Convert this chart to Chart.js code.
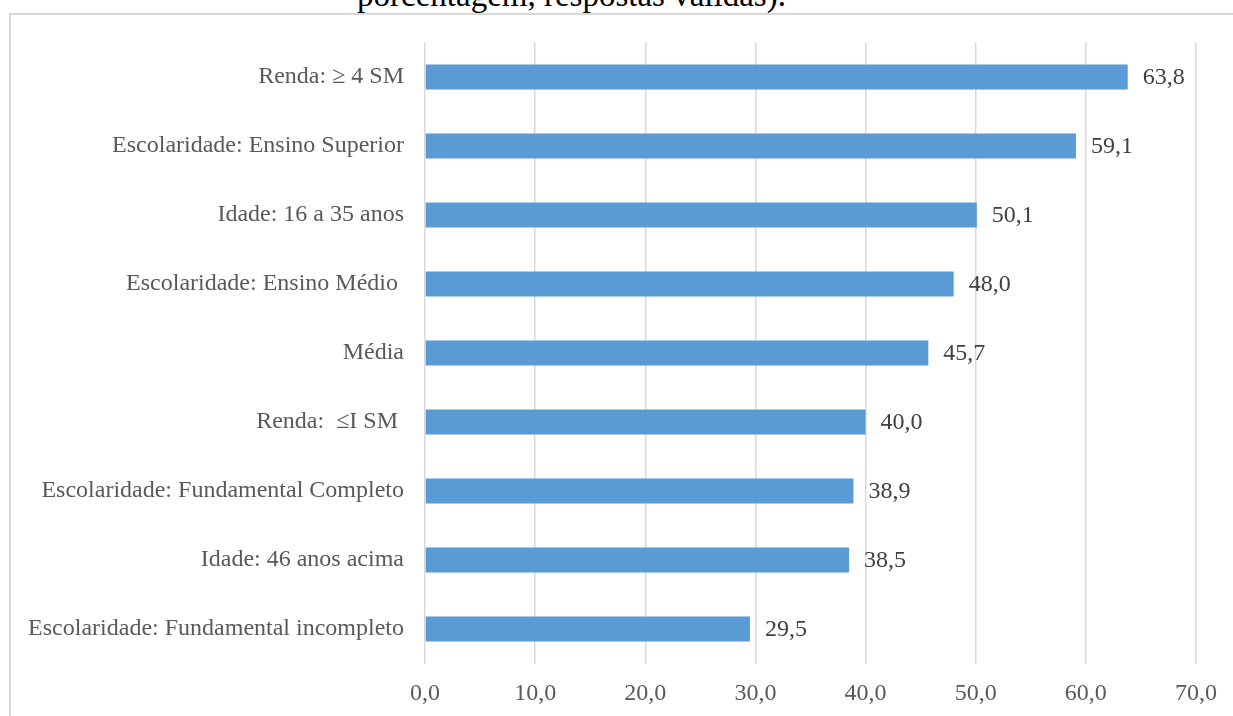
<!DOCTYPE html>
<html lang="pt">
<head>
  <meta charset="UTF-8" />
  <title>Gráfico de barras</title>
  <script src="https://cdn.jsdelivr.net/npm/chart.js"></script>
  <style>
    html, body {
      margin: 0;
      padding: 0;
      background: #ffffff;
      overflow: hidden;
    }
    .title {
      position: absolute;
      left: 0;
      width: 1143px;
      top: -21px;
      text-align: center;
      font-family: "Liberation Serif", serif;
      font-size: 33px;
      line-height: 33px;
      color: #000;
      white-space: nowrap;
    }
    .frame {
      position: absolute;
      left: 9px;
      top: 13px;
      width: 1240px;
      height: 720px;
      border-left: 2px solid #d9d9d9;
      border-top: 2px solid #d9d9d9;
    }
    .wrap {
      position: absolute;
      left: 0;
      top: 0;
      width: 1233px;
      height: 716px;
    }
  </style>
</head>
<body>
  <div class="title">porcentagem, respostas válidas).</div>
  <div class="frame"></div>
  <div class="wrap">
    <canvas id="barChart"></canvas>
  </div>

  <script>
    const categories = [
      "Renda: \u2265 4 SM",
      "Escolaridade: Ensino Superior",
      "Idade: 16 a 35 anos",
      "Escolaridade: Ensino Médio ",
      "Média",
      "Renda:  \u2264I SM ",
      "Escolaridade: Fundamental Completo",
      "Idade: 46 anos acima",
      "Escolaridade: Fundamental incompleto"
    ];
    const values = [63.8, 59.1, 50.1, 48.0, 45.7, 40.0, 38.9, 38.5, 29.5];
    const xTicks = [0, 10, 20, 30, 40, 50, 60, 70];

    const fmt = v => v.toFixed(1).replace('.', ',');

    // draws the value next to the end of each bar
    const valueLabels = {
      id: 'valueLabels',
      afterDatasetsDraw(chart) {
        const ctx = chart.ctx;
        const meta = chart.getDatasetMeta(0);
        ctx.save();
        ctx.font = '24px "Liberation Serif", serif';
        ctx.fillStyle = '#404040';
        ctx.textAlign = 'left';
        ctx.textBaseline = 'middle';
        meta.data.forEach((bar, i) => {
          ctx.fillText(fmt(values[i]), bar.x + 15, bar.y + 1);
        });
        ctx.restore();
      }
    };

    const ctx = document.getElementById("barChart").getContext("2d");

    new Chart(ctx, {
      type: 'bar',
      data: {
        labels: categories,
        datasets: [{
          data: values,
          backgroundColor: '#5b9bd5',
          borderWidth: 0,
          barPercentage: 0.36,
          categoryPercentage: 1
        }]
      },
      plugins: [valueLabels],
      options: {
        indexAxis: 'y',
        responsive: true,
        maintainAspectRatio: false,
        animation: false,
        layout: {
          padding: { top: 42.5, right: 36, left: 0, bottom: 0 }
        },
        plugins: {
          legend: { display: false },
          tooltip: { enabled: false }
        },
        scales: {
          x: {
            min: 0,
            max: 70,
            afterBuildTicks(axis) {
              axis.ticks = xTicks.map(v => ({ value: v }));
            },
            afterFit(axis) {
              axis.height = 52.5;
            },
            grid: {
              color: '#d9d9d9',
              lineWidth: 1.5,
              drawTicks: false
            },
            border: { display: false },
            ticks: {
              padding: 16,
              color: '#595959',
              font: { family: '"Liberation Serif", serif', size: 24 },
              callback: v => fmt(v)
            }
          },
          y: {
            afterFit(axis) {
              axis.width = 425;
            },
            grid: { display: false, drawTicks: false },
            border: { display: false },
            ticks: {
              padding: 21,
              color: '#595959',
              font: { family: '"Liberation Serif", serif', size: 24 }
            }
          }
        }
      }
    });
  </script>
</body>
</html>
